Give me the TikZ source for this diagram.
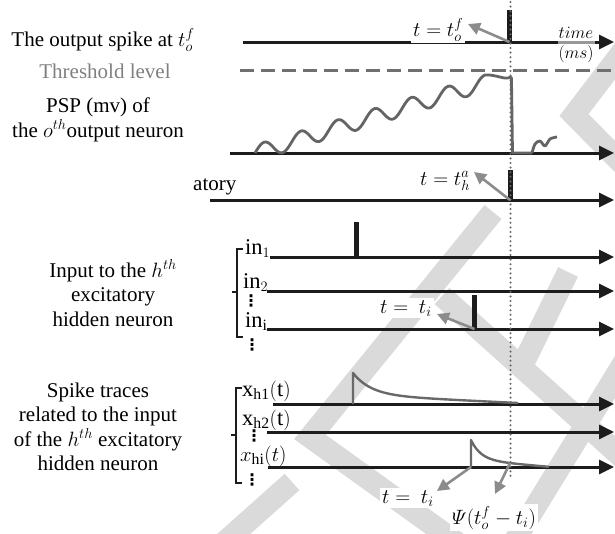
\documentclass[tikz,border=0pt]{standalone}
\usepackage{amsmath}
\usepackage{fontspec}
\setmainfont{Liberation Serif}
\newfontfamily\dejavu{DejaVu Sans}
\usetikzlibrary{arrows.meta}
\definecolor{axk}{RGB}{28,28,28}
\definecolor{thr}{RGB}{128,128,128}
\definecolor{thrline}{RGB}{112,112,112}
\definecolor{wav}{RGB}{100,100,100}
\definecolor{ptr}{RGB}{140,140,140}
\definecolor{trc}{RGB}{105,105,105}
\definecolor{dotc}{RGB}{105,105,105}
\definecolor{wmc}{RGB}{218,218,218}
\tikzset{
  axis/.style={line width=3pt, draw=axk, -{Triangle[length=15pt,width=14pt]}},
  spikebar/.style={line width=5pt, draw=axk},
  pointer/.style={line width=2.6pt, draw=ptr, -{Triangle[length=12pt,width=12pt]}},
  wm/.style={line width=22pt, draw=wmc, line join=miter},
  txt/.style={font=\fontsize{21}{24.5}\selectfont, align=center, inner sep=1pt},
  mlab/.style={font=\fontsize{20}{24}\selectfont, fill=white, inner sep=2pt},
  axlab/.style={font=\fontsize{22.5}{26}\selectfont, inner sep=0pt},
  dotsym/.style={font=\dejavu\bfseries\fontsize{16}{16}\selectfont, inner sep=0pt},
  trace/.style={line width=2.4pt, draw=trc, line join=round},
  wave/.style={line width=2.8pt, draw=wav, line join=round},
  brk/.style={line width=1.6pt, draw=axk},
  dotline/.style={line width=2.3pt, draw=dotc, line cap=round, dash pattern=on 0pt off 4.6pt},
  thrdash/.style={line width=3pt, draw=thrline, dash pattern=on 14pt off 7pt}
}
\begin{document}
\begin{tikzpicture}[x=1pt,y=-1pt]
\useasboundingbox (0,0) rectangle (615,533);

% watermark bands
\begin{scope}
\clip (0,0) rectangle (615,533);
\draw[wm] (645,22) -- (574,115) -- (645,187);
\draw[wm] (493,212) -- (310,437) -- (470,552);
\draw[wm] (568,272) -- (524,362);
\draw[wm] (442,296) -- (645,478);
\draw[wm] (645,328) -- (512,545);
\draw[wm] (292,482) -- (218,548);
\end{scope}

% left labels
\node[txt, anchor=base] (lo) at (103,46) {The output spike at $t_o^f$};
\node[txt, anchor=base, text=thr] (lthr) at (105,78) {Threshold level};
\node[txt] (lpsp) at (98,120) {PSP (mv) of\\the $o^{th}$output neuron};
\node[txt, anchor=base west] (lat) at (192,190) {atory};
\node[txt] (lin) at (113,293) {Input to the $h^{th}$\\excitatory\\hidden neuron};
\node[txt] (ltr) at (98,427) {Spike traces\\related to the input\\of the $h^{th}$ excitatory\\hidden neuron};

% axis coordinates
\coordinate (a1s) at (243,42);   \coordinate (a1e) at (614,42);
\coordinate (ths) at (240,70.5); \coordinate (the) at (615,70.5);
\coordinate (a3s) at (230,153);  \coordinate (a3e) at (614,153);
\coordinate (a4s) at (210,200);  \coordinate (a4e) at (614,200);
\coordinate (i1s) at (270,257);  \coordinate (i1e) at (614,257);
\coordinate (i2s) at (267,291);  \coordinate (i2e) at (614,291);
\coordinate (iis) at (267,329);  \coordinate (iie) at (614,329);
\coordinate (x1s) at (273,404);  \coordinate (x1e) at (614,404);
\coordinate (x2s) at (267,432);  \coordinate (x2e) at (614,432);
\coordinate (xis) at (268,467);  \coordinate (xie) at (614,467);

\draw[thrdash] (ths) -- (the);
\draw[axis] (a1s) -- (a1e);
\draw[axis] (a3s) -- (a3e);
\draw[axis] (a4s) -- (a4e);
\draw[axis] (i1s) -- (i1e);
\draw[axis] (i2s) -- (i2e);
\draw[axis] (iis) -- (iie);
\draw[axis] (x1s) -- (x1e);
\draw[axis] (x2s) -- (x2e);
\draw[axis] (xis) -- (xie);

% time label
\node[font=\fontsize{18}{20}\selectfont, fill=white, fill opacity=0.55, text opacity=1, align=center, inner sep=1pt] (ltime) at (576,45) {$time$\\$(ms)$};

% spikes
\coordinate (s1b) at (509.5,42);  \coordinate (s1t) at (509.5,10);
\coordinate (s4b) at (510,200);   \coordinate (s4t) at (510,170);
\coordinate (sab) at (356,257);   \coordinate (sat) at (356,222);
\coordinate (sib) at (474.5,329); \coordinate (sit) at (474.5,295);
\draw[spikebar] (s1b) -- (s1t);
\draw[spikebar] (s4b) -- (s4t);
\draw[spikebar] (sab) -- (sat);
\draw[spikebar] (sib) -- (sit);

% PSP wave
\draw[wave] plot[domain=255:487, samples=220] (\x, {153 - 0.304*(\x-255) - 8*sin(9.7826*(\x-255))})
  .. controls (496,75) and (504,79) .. (508,78)
  .. controls (511,77) and (512,76) .. (511.5,82) -- (512.5,153) -- (532,153)
  plot[smooth] coordinates {(532,153) (535,144) (540,141) (545,146) (550,139) (557,137)};

% spike traces
\coordinate (t1b) at (353,404); \coordinate (t1t) at (353,373);
\coordinate (t2b) at (471,467); \coordinate (t2t) at (471,440);
\coordinate (t2m) at (510,463);
\draw[trace] (t1b) -- (t1t) -- plot[domain=353:518, samples=90] (\x, {403 - 22*exp(-(\x-353)/18) - 8*(1-(\x-353)/165)});
\draw[trace] (t2b) -- (t2t) -- plot[domain=471:549, samples=70] (\x, {467 - 20*exp(-(\x-471)/10) - 7*(1-(\x-471)/80)});

% dotted time marker
\coordinate (dtop) at (510.5,2); \coordinate (dbot) at (510.5,480);
\draw[dotline] (dtop) -- (dbot);

% brackets
\draw[brk] (243,249) -- (237,249) -- (237,337) -- (243,337);
\draw[brk] (237,292) -- (232,292);
\draw[brk] (242,388) -- (236,388) -- (236,483) -- (242,483);
\draw[brk] (236,435) -- (231,435);

% axis labels
\node[axlab, anchor=base west] (lin1) at (245,254) {$\mathrm{in}_1$};
\node[axlab, anchor=base west] (lin2) at (243,288) {$\mathrm{in}_2$};
\node[dotsym] (dd1) at (251,300.5) {⋮};
\node[axlab, anchor=base west] (lini) at (245,327) {$\mathrm{in}_\mathrm{i}$};
\node[dotsym] (dd2) at (252,345) {⋮};
\node[axlab, anchor=base west] (lx1) at (242,396) {$\mathrm{x}_{\mathrm{h1}}(\mathrm{t})$};
\node[axlab, anchor=base west] (lx2) at (242,425) {$\mathrm{x}_{\mathrm{h2}}(\mathrm{t})$};
\node[dotsym] (dd3) at (254,436) {⋮};
\node[axlab, anchor=base west] (lxi) at (240,461) {$x_{\mathrm{hi}}(t)$};
\node[dotsym] (dd4) at (252,480) {⋮};

% math labels
\node[mlab, anchor=base west] (lto) at (411,36) {$t = t_o^f$};
\node[mlab, anchor=base west] (lha) at (418,185) {$t = t_h^a$};
\node[mlab, anchor=base west] (lti1) at (378,313) {$t = \ t_i$};
\node[mlab, anchor=base west] (lti2) at (380,503) {$t = \ t_i$};
\node[mlab, anchor=base west] (lpsi) at (450,524) {$\varPsi(t_o^f - t_i)$};

% pointers
\coordinate (p1t) at (468,24);
\coordinate (p2t) at (474,172);
\coordinate (p3t) at (437,314);
\coordinate (p4t) at (437,491);
\coordinate (p5t) at (495,494);
\draw[pointer] (s1b) -- (p1t);
\draw[pointer] (s4b) -- (p2t);
\draw[pointer] (sib) -- (p3t);
\draw[pointer] (t2b) -- (p4t);
\draw[pointer] (t2m) -- (p5t);
\end{tikzpicture}
\end{document}
